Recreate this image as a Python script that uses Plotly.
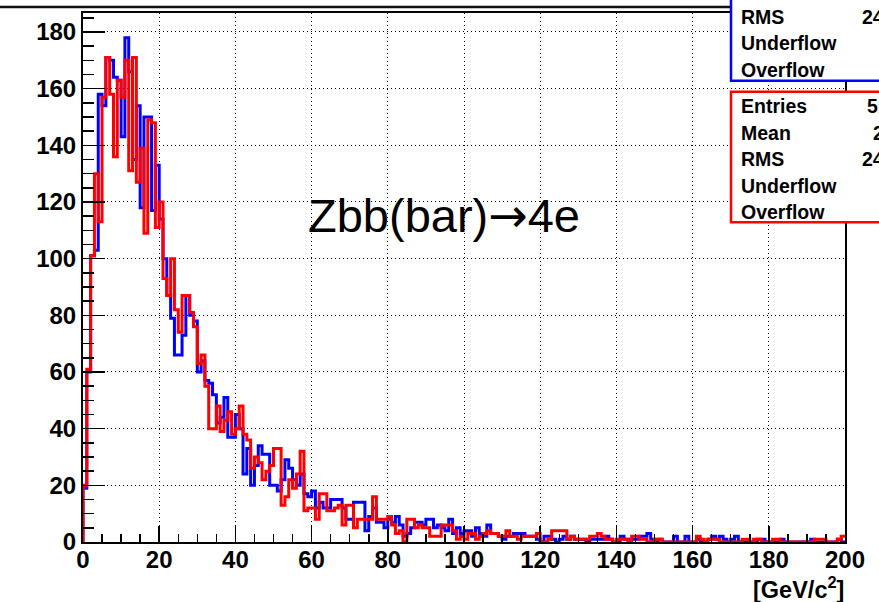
import numpy as np
import plotly.graph_objects as go

# ---------------- data (bin contents, 1 GeV bins from 0 to 200) ----------------
blue_head = [19, 60, 101, 103, 158, 154, 171, 170, 164, 163,
             143, 178, 166, 135, 154, 118, 150, 150, 117, 133,
             114, 100, 87, 79, 66, 66, 73, 87, 80, 78,
             60, 64, 57, 56, 52, 42, 44, 51, 37, 37,
             45, 40, 24, 33, 20, 27, 34, 31, 31, 20,
             20, 18, 22, 29, 26, 22, 20, 24, 17, 16,
             18, 12, 14, 12, 12, 15, 15, 15, 12, 8,
             8, 14, 14, 14, 4, 9, 12, 7, 7, 5,
             8, 7, 9, 6, 2, 3, 5, 7, 7, 6,
             8, 8, 5, 6, 5, 4, 8, 3, 5, 3]
blue_tail = [4, 4, 2, 5, 3, 2, 6, 3, 3, 2,
             1, 2, 2, 3, 3, 3, 2, 2, 2, 1,
             0, 2, 2, 1, 0, 1, 2, 1, 2, 1,
             1, 1, 0, 1, 1, 1, 1, 2, 1, 0,
             0, 2, 1, 1, 1, 1, 2, 2, 3, 1,
             0, 1, 0, 0, 0, 2, 0, 0, 2, 0,
             0, 1, 0, 0, 1, 2, 1, 2, 1, 0,
             1, 2, 0, 0, 0, 0, 0, 1, 1, 0,
             0, 0, 0, 1, 0, 0, 0, 0, 0, 0,
             0, 1, 0, 0, 0, 0, 0, 0, 1, 0]
red_head = [20, 61, 101, 130, 113, 157, 171, 158, 136, 163,
            157, 170, 131, 171, 127, 139, 109, 149, 148, 111,
            120, 93, 87, 100, 82, 74, 87, 87, 81, 76,
            63, 66, 55, 40, 40, 48, 39, 43, 46, 38,
            40, 48, 38, 36, 26, 30, 28, 22, 25, 27,
            33, 33, 13, 16, 22, 19, 24, 32, 11, 12,
            12, 8, 17, 17, 11, 11, 12, 13, 6, 13,
            13, 5, 8, 8, 8, 8, 16, 8, 8, 8,
            9, 6, 3, 4, 0, 8, 8, 5, 6, 5,
            5, 2, 2, 2, 6, 6, 6, 4, 1, 2]
red_tail = [1, 3, 3, 1, 2, 3, 4, 3, 3, 2,
            2, 4, 2, 2, 1, 2, 2, 2, 2, 3,
            0, 0, 1, 4, 4, 4, 4, 1, 2, 1,
            1, 1, 1, 2, 2, 3, 2, 1, 1, 0,
            1, 1, 1, 0, 2, 2, 1, 1, 0, 0,
            1, 1, 0, 0, 0, 0, 0, 0, 0, 0,
            0, 2, 1, 0, 1, 1, 1, 0, 0, 0,
            0, 0, 0, 1, 1, 0, 1, 1, 0, 0,
            0, 1, 1, 0, 0, 0, 0, 0, 0, 0,
            0, 0, 1, 1, 1, 0, 0, 0, 1, 2]
blue_counts = blue_head + blue_tail
red_counts = red_head + red_tail

x_min, x_max, n_bins = 0, 200, 200
y_max = 186.7
x_ticks = [0, 20, 40, 60, 80, 100, 120, 140, 160, 180, 200]
y_ticks = [0, 20, 40, 60, 80, 100, 120, 140, 160, 180]

label_main = "Zbb(bar)"
label_arrow = "\u2192"
label_end = "4e"
axis_title = "[GeV/c<sup>2</sup>]"
stat_labels = ["Entries", "Mean", "RMS", "Underflow", "Overflow"]
red_stat_values = ["5186", "27.5", "24.52", "0", "0"]
blue_stat_values = ["5203", "27.3", "24.38", "0", "0"]

# ---------------- geometry helpers ----------------
W, H = 879, 602
L, R, T, B = 83, 845, 11, 542


def px(xp):
    return (xp - L) / (R - L)


def py(yp):
    return (B - yp) / (B - T)


edges = np.linspace(x_min, x_max, n_bins + 1)


def step_xy(counts):
    xs = [edges[0]] + list(edges[:-1]) + [edges[-1]]
    ys = [0] + list(counts) + [counts[-1]]
    return xs, ys


fig = go.Figure()
for counts, col in [(blue_counts, "#0000ff"), (red_counts, "#ff0000")]:
    xs, ys = step_xy(counts)
    fig.add_trace(go.Scatter(x=xs, y=ys, mode="lines", line_shape="hv",
                             line=dict(color=col, width=3), showlegend=False,
                             hoverinfo="skip"))

tick_font = dict(family="Liberation Sans, Arial, sans-serif", size=24,
                 color="black", weight="bold")

fig.update_layout(
    width=W, height=H, autosize=False,
    margin=dict(l=L, r=W - R, t=T, b=H - B, pad=0),
    paper_bgcolor="white", plot_bgcolor="white",
    showlegend=False,
    xaxis=dict(range=[x_min, x_max], tickvals=x_ticks, ticks="inside",
               ticklen=16, tickwidth=1.5, tickcolor="black",
               ticklabelstandoff=-5,
               minor=dict(dtick=5, tick0=0, ticks="inside", ticklen=8,
                          tickwidth=1.5, tickcolor="black", showgrid=False),
               showgrid=True, gridcolor="black", gridwidth=1, griddash="1px,3px",
               showline=True, linecolor="black", linewidth=2, mirror=True,
               zeroline=False, tickfont=tick_font),
    yaxis=dict(range=[0, y_max], tickvals=y_ticks, ticks="inside",
               ticklen=22, tickwidth=1.5, tickcolor="black",
               minor=dict(dtick=5, tick0=0, ticks="inside", ticklen=11,
                          tickwidth=1.5, tickcolor="black", showgrid=False),
               showgrid=True, gridcolor="black", gridwidth=1, griddash="1px,3px",
               showline=True, linecolor="black", linewidth=2, mirror=True,
               zeroline=False, tickfont=tick_font),
)

shapes = []
# title pave (only its bottom edge is inside the picture)
shapes.append(dict(type="rect", xref="paper", yref="paper",
                   x0=px(-5), x1=px(735), y0=py(5), y1=py(-30),
                   fillcolor="white", line=dict(color="#111111", width=2.5),
                   layer="above"))
# stats boxes
shapes.append(dict(type="rect", xref="paper", yref="paper",
                   x0=px(731), x1=px(900), y0=py(-40), y1=py(79),
                   fillcolor="white", line=dict(color="#0000ff", width=2.5),
                   layer="above"))
shapes.append(dict(type="rect", xref="paper", yref="paper",
                   x0=px(731), x1=px(900), y0=py(90), y1=py(221),
                   fillcolor="white", line=dict(color="#ff0000", width=2.5),
                   layer="above"))
fig.update_layout(shapes=shapes)

stat_font = dict(family="Liberation Sans, Arial, sans-serif", size=19.5,
                 color="black", weight="bold")
ann = []
blue_rows = [(-39, 0), (-12, 1), (15, 2), (41.5, 3), (68.5, 4)]
red_rows = [(104, 0), (131, 1), (158, 2), (184.5, 3), (211, 4)]
for rows, vals in [(blue_rows, blue_stat_values), (red_rows, red_stat_values)]:
    for yy, k in rows:
        ann.append(dict(xref="paper", yref="paper", x=px(739), y=py(yy),
                        xanchor="left", yanchor="middle", showarrow=False,
                        text=stat_labels[k], font=stat_font))
        ann.append(dict(xref="paper", yref="paper", x=px(913), y=py(yy),
                        xanchor="right", yanchor="middle", showarrow=False,
                        text=vals[k], font=stat_font))

label_html = (label_main
              + '<span style="font-family:DejaVu Sans">' + label_arrow + '</span>'
              + label_end)
ann.append(dict(xref="paper", yref="paper", x=px(444), y=py(214),
                xanchor="center", yanchor="middle", showarrow=False,
                text=label_html,
                font=dict(family="Liberation Sans, Arial, sans-serif",
                          size=47, color="black")))
ann.append(dict(xref="paper", yref="paper", x=px(846), y=py(588),
                xanchor="right", yanchor="middle", showarrow=False,
                text=axis_title,
                font=dict(family="Liberation Sans, Arial, sans-serif",
                          size=23.5, color="black", weight="bold")))
fig.update_layout(annotations=ann)

fig.write_html("out.html",
               config={"displayModeBar": False, "staticPlot": True},
               post_script="document.body.style.margin='0px';"
                           "document.body.style.overflow='hidden';")
